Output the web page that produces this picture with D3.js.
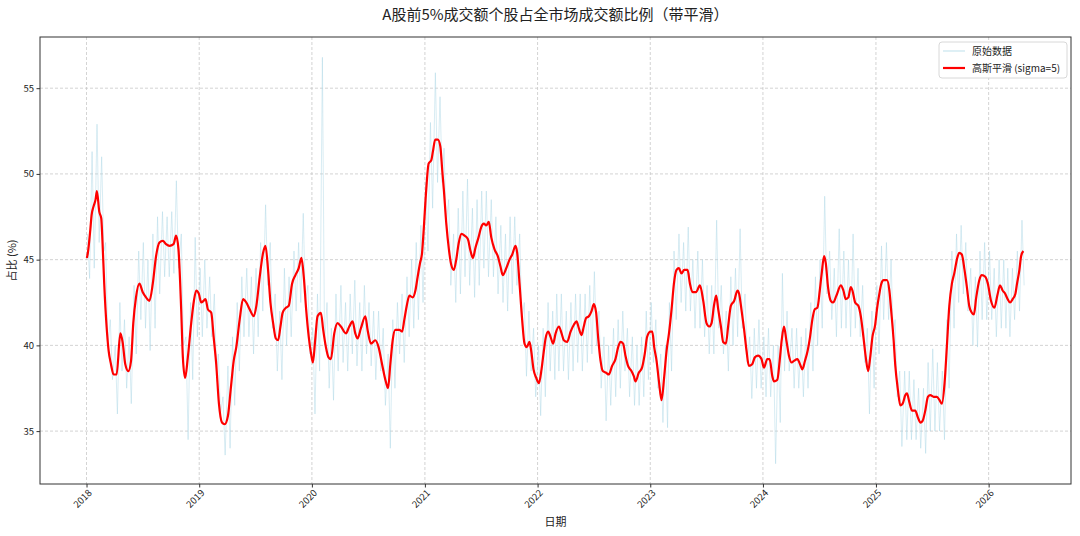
<!DOCTYPE html>

<head>
    <meta charset="utf-8">
    <style>
        html,
        body {
            margin: 0;
            padding: 0;
            background: #fff;
        }

        svg text {
            font-family: "Noto Sans CJK SC", "DejaVu Sans", sans-serif;
            fill: #222;
        }

        .grid line {
            stroke: #c8c8c8;
            stroke-width: 0.8px;
            stroke-dasharray: 3, 2;
        }

        .axis path,
        .axis line {
            stroke: #333;
        }
    </style>
    <script src="https://cdn.jsdelivr.net/npm/d3@7"></script>
</head>

<body>
    <svg id="chart" width="1080" height="536"></svg>

    <script>
        var smoothYears = [
            2018.003, 2018.012, 2018.033, 2018.045, 2018.062, 2018.080, 2018.092, 2018.113, 2018.131, 2018.142, 2018.157, 2018.178, 2018.196, 2018.217, 2018.240, 2018.267, 2018.300, 2018.320, 2018.344, 2018.371, 2018.395, 2018.415, 2018.439, 2018.469, 2018.499, 2018.528, 2018.558, 2018.588, 2018.617, 2018.647, 2018.677, 2018.706, 2018.736, 2018.772, 2018.795, 2018.816, 2018.840, 2018.855, 2018.875, 2018.899, 2018.929, 2018.953, 2018.974, 2018.997,
            2019.018, 2019.039, 2019.056, 2019.077, 2019.107, 2019.128, 2019.151, 2019.175, 2019.202, 2019.226, 2019.255, 2019.279, 2019.306, 2019.329, 2019.359, 2019.389, 2019.418, 2019.448, 2019.484, 2019.507, 2019.537, 2019.567, 2019.588, 2019.611, 2019.632, 2019.656, 2019.680, 2019.700, 2019.721, 2019.740, 2019.770, 2019.794, 2019.824, 2019.854, 2019.883, 2019.907, 2019.928, 2019.949, 2019.972, 2019.993,
            2020.009, 2020.029, 2020.050, 2020.080, 2020.100, 2020.124, 2020.147, 2020.168, 2020.198, 2020.227, 2020.257, 2020.301, 2020.331, 2020.360, 2020.384, 2020.404, 2020.434, 2020.473, 2020.493, 2020.523, 2020.561, 2020.590, 2020.621, 2020.650, 2020.674, 2020.694, 2020.715, 2020.738, 2020.774, 2020.798, 2020.818, 2020.839, 2020.863, 2020.892, 2020.916, 2020.936, 2020.957, 2020.975, 2020.989,
            2021.012, 2021.033, 2021.057, 2021.071, 2021.092, 2021.115, 2021.137, 2021.154, 2021.168, 2021.190, 2021.213, 2021.234, 2021.257, 2021.278, 2021.301, 2021.325, 2021.352, 2021.381, 2021.405, 2021.426, 2021.449, 2021.476, 2021.500, 2021.523, 2021.544, 2021.567, 2021.589, 2021.618, 2021.647, 2021.671, 2021.691, 2021.722, 2021.751, 2021.775, 2021.804, 2021.819, 2021.840, 2021.863, 2021.884, 2021.904, 2021.928, 2021.943, 2021.964, 2021.988,
            2022.012, 2022.035, 2022.056, 2022.071, 2022.094, 2022.115, 2022.138, 2022.160, 2022.189, 2022.213, 2022.233, 2022.262, 2022.293, 2022.322, 2022.346, 2022.366, 2022.390, 2022.410, 2022.431, 2022.455, 2022.479, 2022.499, 2022.520, 2022.537, 2022.559, 2022.579, 2022.608, 2022.632, 2022.661, 2022.691, 2022.715, 2022.736, 2022.759, 2022.780, 2022.803, 2022.833, 2022.854, 2022.869, 2022.898, 2022.927, 2022.951, 2022.972,
            2023.002, 2023.018, 2023.035, 2023.056, 2023.077, 2023.100, 2023.124, 2023.145, 2023.166, 2023.189, 2023.210, 2023.233, 2023.254, 2023.277, 2023.301, 2023.331, 2023.352, 2023.375, 2023.405, 2023.441, 2023.470, 2023.499, 2023.523, 2023.544, 2023.565, 2023.585, 2023.603, 2023.627, 2023.647, 2023.671, 2023.691, 2023.715, 2023.745, 2023.774, 2023.789, 2023.809, 2023.833, 2023.854, 2023.875, 2023.904, 2023.928, 2023.957, 2023.987,
            2024.009, 2024.038, 2024.059, 2024.083, 2024.098, 2024.127, 2024.148, 2024.166, 2024.186, 2024.207, 2024.230, 2024.254, 2024.275, 2024.305, 2024.328, 2024.349, 2024.372, 2024.396, 2024.417, 2024.437, 2024.458, 2024.482, 2024.503, 2024.520, 2024.541, 2024.556, 2024.576, 2024.600, 2024.621, 2024.650, 2024.689, 2024.712, 2024.733, 2024.756, 2024.777, 2024.792, 2024.816, 2024.845, 2024.866, 2024.889, 2024.910, 2024.931, 2024.949, 2024.969, 2024.993,
            2025.009, 2025.030, 2025.048, 2025.068, 2025.098, 2025.119, 2025.137, 2025.157, 2025.172, 2025.195, 2025.216, 2025.237, 2025.261, 2025.275, 2025.296, 2025.319, 2025.349, 2025.372, 2025.394, 2025.414, 2025.438, 2025.461, 2025.482, 2025.512, 2025.541, 2025.565, 2025.585, 2025.609, 2025.629, 2025.651, 2025.674, 2025.695, 2025.718, 2025.739, 2025.762, 2025.786, 2025.807, 2025.828, 2025.851, 2025.869, 2025.890, 2025.917, 2025.940, 2025.970, 2025.993,
            2026.021, 2026.051, 2026.080, 2026.101, 2026.124, 2026.148, 2026.168, 2026.190, 2026.213, 2026.237, 2026.252, 2026.273, 2026.288, 2026.308
        ];
        var smoothValues = [
            45.1, 45.4, 46.7, 47.6, 48.1, 48.5, 49.0, 47.8, 47.4, 46.0, 43.6, 41.1, 39.7, 38.9, 38.3, 38.3, 40.7, 40.2, 38.9, 38.5, 39.1, 41.3, 42.8, 43.6, 43.1, 42.8, 42.6, 43.6, 45.2, 46.0, 46.1, 45.9, 45.8, 45.9, 46.4, 45.6, 42.1, 39.3, 38.1, 39.3, 41.3, 42.6, 43.2, 43.0,
            42.5, 42.6, 42.7, 42.1, 41.9, 40.5, 38.9, 36.6, 35.5, 35.4, 35.9, 37.4, 39.1, 39.9, 41.5, 42.7, 42.5, 42.1, 41.7, 42.3, 44.0, 45.4, 45.8, 44.4, 42.5, 41.3, 40.4, 40.3, 41.1, 41.9, 42.2, 42.3, 43.6, 44.1, 44.5, 45.1, 44.0, 42.1, 40.5, 39.5,
            39.0, 40.3, 41.7, 41.9, 40.9, 39.9, 39.3, 39.2, 40.7, 41.3, 41.1, 40.7, 41.1, 41.4, 40.7, 40.4, 41.0, 41.7, 40.9, 40.1, 40.3, 39.9, 38.9, 38.0, 37.5, 38.9, 40.3, 40.9, 40.9, 40.8, 41.5, 42.3, 42.9, 42.8, 43.2, 44.0, 44.8, 45.4, 46.7,
            49.1, 50.6, 50.8, 51.3, 52.0, 52.0, 51.6, 50.2, 49.1, 47.1, 45.6, 44.7, 44.4, 45.0, 46.0, 46.5, 46.4, 46.2, 45.5, 45.1, 45.7, 46.3, 46.9, 47.1, 47.0, 47.2, 46.3, 45.6, 45.2, 44.6, 44.1, 44.5, 45.0, 45.3, 45.8, 45.4, 43.6, 41.5, 40.1, 39.9, 40.2, 39.7, 38.6, 38.1,
            37.8, 38.6, 39.7, 40.4, 40.8, 40.5, 40.1, 40.7, 41.1, 40.7, 40.3, 40.2, 40.8, 41.2, 41.4, 41.0, 40.6, 41.1, 41.6, 41.7, 42.0, 42.4, 41.9, 40.5, 39.1, 38.5, 38.4, 38.3, 38.8, 39.2, 39.9, 40.2, 40.1, 39.4, 38.8, 38.5, 38.2, 37.9, 38.4, 38.7, 39.5, 40.5,
            40.8, 40.8, 39.9, 39.1, 37.9, 36.8, 38.2, 39.7, 40.7, 42.1, 43.6, 44.4, 44.5, 44.2, 44.4, 44.4, 43.6, 43.1, 43.1, 43.5, 42.6, 41.3, 41.1, 41.3, 42.3, 42.9, 42.1, 41.1, 40.2, 40.1, 41.1, 42.3, 42.6, 43.2, 43.0, 42.1, 40.9, 39.7, 38.8, 38.9, 39.3, 39.4, 39.2,
            38.7, 39.2, 39.2, 38.2, 37.9, 38.0, 39.1, 40.3, 41.1, 40.3, 39.4, 39.0, 39.1, 39.2, 38.9, 38.6, 39.1, 39.7, 40.5, 41.5, 42.1, 42.2, 43.2, 44.2, 45.2, 44.8, 43.4, 42.6, 42.5, 42.9, 43.5, 43.2, 42.7, 42.8, 43.4, 43.2, 42.5, 42.3, 41.7, 40.5, 39.3, 38.5, 39.3, 40.5, 41.2,
            42.1, 43.0, 43.6, 43.8, 43.8, 43.2, 41.9, 40.3, 38.8, 37.4, 36.5, 36.6, 37.1, 37.2, 36.7, 36.2, 36.2, 35.8, 35.5, 35.6, 36.2, 37.0, 37.1, 37.0, 37.0, 36.8, 36.6, 37.8, 39.9, 42.3, 43.6, 44.2, 45.0, 45.4, 45.3, 44.4, 43.4, 42.3, 41.9, 41.8, 42.8, 43.8, 44.1, 44.0, 43.6,
            42.6, 42.2, 43.0, 43.5, 43.2, 43.0, 42.7, 42.5, 42.7, 43.0, 43.6, 44.4, 45.2, 45.5
        ];

        // Raw daily series, read as the high and low of each half month (1st / 16th), Jan 2018 .. Apr 2026
        var rawHigh = [
            46.5, 51.3, 52.9, 51.0, 46.0, 41.5, 40.0, 42.5, 41.5, 40.5, 43.5, 45.5, 46.0, 45.0, 46.5, 47.5, 47.8, 47.5, 47.8, 49.6, 46.5, 40.5, 42.5, 46.3,
            44.5, 45.0, 44.0, 43.0, 39.5, 37.0, 38.8, 40.5, 42.5, 44.0, 44.5, 44.0, 44.5, 46.0, 48.2, 46.0, 43.0, 42.0, 44.5, 44.0, 45.5, 46.0, 47.7, 43.5,
            41.0, 43.0, 56.8, 42.5, 41.0, 43.0, 43.5, 42.5, 43.0, 43.8, 42.5, 43.5, 42.5, 42.0, 42.0, 41.0, 39.5, 41.5, 42.5, 43.0, 44.0, 45.0, 46.0, 47.0,
            49.5, 53.0, 55.9, 54.5, 51.5, 48.5, 46.5, 48.0, 49.0, 49.7, 48.0, 48.5, 49.0, 49.0, 48.5, 47.5, 47.0, 46.5, 47.5, 47.5, 46.5, 42.5, 42.0, 41.0,
            40.0, 41.0, 42.5, 42.0, 43.0, 43.0, 42.0, 42.5, 43.0, 43.0, 43.0, 43.5, 44.3, 42.0, 40.5, 40.0, 41.0, 41.5, 42.0, 41.0, 40.5, 40.0, 40.5, 42.0,
            42.5, 41.5, 39.5, 40.0, 42.5, 45.5, 46.5, 46.0, 46.9, 45.0, 45.5, 45.0, 43.5, 43.5, 47.3, 43.5, 42.0, 44.0, 44.5, 46.8, 43.0, 40.5, 41.0, 41.5,
            40.5, 41.0, 40.0, 40.0, 44.2, 42.0, 41.0, 41.0, 40.5, 41.0, 42.5, 44.0, 45.0, 48.7, 45.5, 44.5, 46.8, 45.5, 45.0, 46.5, 44.5, 43.5, 41.0, 42.0,
            43.5, 45.8, 46.0, 45.0, 41.5, 38.5, 38.5, 38.5, 38.0, 37.5, 37.5, 39.0, 39.8, 39.0, 38.5, 41.5, 45.5, 46.5, 47.0, 46.0, 44.5, 44.0, 45.5, 46.0,
            45.5, 44.5, 45.0, 45.0, 44.5, 44.5, 45.5, 47.3
        ];
        var rawLow = [
            43.9, 44.5, 46.0, 45.5, 40.0, 38.0, 36.0, 38.5, 37.5, 36.6, 39.5, 41.5, 41.0, 39.7, 41.0, 43.0, 44.0, 44.0, 44.2, 44.5, 40.0, 34.5, 38.0, 40.5,
            40.5, 41.0, 40.5, 38.5, 36.0, 33.6, 34.0, 36.5, 38.5, 40.5, 40.5, 39.5, 40.5, 42.0, 43.5, 41.0, 38.5, 38.0, 40.0, 40.5, 42.0, 42.5, 42.5, 39.5,
            36.0, 38.5, 40.0, 37.5, 36.8, 38.5, 39.0, 38.5, 39.5, 38.8, 38.5, 39.5, 38.8, 38.0, 38.5, 36.5, 34.0, 37.5, 39.5, 39.0, 40.5, 41.0, 41.5, 42.5,
            45.5, 48.0, 49.5, 49.5, 47.0, 43.5, 42.5, 43.0, 44.0, 43.5, 42.8, 43.5, 44.5, 44.0, 44.0, 43.0, 42.5, 42.0, 43.0, 43.5, 41.5, 38.2, 38.5, 37.0,
            35.9, 37.0, 38.5, 38.0, 38.5, 38.5, 38.0, 38.5, 39.0, 38.5, 39.0, 39.5, 40.0, 37.5, 35.6, 36.5, 37.0, 37.5, 38.5, 37.0, 36.5, 36.5, 37.0, 38.0,
            39.0, 37.5, 35.5, 35.2, 38.5, 41.5, 42.5, 42.0, 42.0, 41.0, 41.0, 40.5, 39.5, 39.5, 41.0, 39.5, 38.5, 40.0, 40.5, 41.0, 39.0, 36.9, 37.5, 37.5,
            37.0, 37.0, 33.1, 35.5, 38.5, 38.5, 37.5, 37.5, 37.0, 37.5, 38.5, 40.0, 41.0, 43.0, 41.5, 40.5, 41.0, 41.0, 40.5, 41.0, 40.5, 39.0, 36.0, 37.5,
            39.5, 41.5, 41.5, 40.5, 37.0, 34.1, 34.5, 34.5, 34.5, 34.0, 33.7, 35.0, 35.0, 35.0, 34.5, 37.5, 41.0, 42.5, 43.0, 42.0, 40.0, 39.9, 41.5, 41.5,
            41.5, 40.5, 41.0, 41.0, 40.5, 41.5, 42.0, 43.5
        ];

        var yTicks = [35, 40, 45, 50, 55];
        var titleText = "A股前5%成交额个股占全市场成交额比例（带平滑）";
        var legendLabels = ["原始数据", "高斯平滑 (sigma=5)"];

        var width = 1080,
            height = 536,
            margin = { top: 37, right: 9, bottom: 52, left: 40 };

        function decToDate(t) {
            var y = Math.floor(t);
            var start = new Date(y, 0, 1),
                end = new Date(y + 1, 0, 1);
            return new Date(+start + (t - y) * (end - start));
        }

        var smooth = smoothYears.map(function (t, i) {
            return { date: decToDate(t), value: smoothValues[i] };
        });

        // raw line zigzags through the high and low of each half month
        var raw = [];
        rawHigh.forEach(function (hi, i) {
            var m = Math.floor(i / 2),
                d0 = i % 2 ? 16 : 1;
            raw.push({ date: new Date(2018, m, d0 + 3), value: hi });
            raw.push({ date: new Date(2018, m, d0 + 10), value: rawLow[i] });
        });

        // matplotlib style 5% margins around the data
        var allDates = raw.map(function (d) { return d.date; }).concat(smooth.map(function (d) { return d.date; }));
        var tExt = d3.extent(allDates),
            tPad = (tExt[1] - tExt[0]) * 0.05;
        var vExt = d3.extent(raw, function (d) { return d.value; }),
            vPad = (vExt[1] - vExt[0]) * 0.05;

        var x = d3.scaleTime()
            .domain([new Date(+tExt[0] - tPad), new Date(+tExt[1] + tPad)])
            .range([margin.left, width - margin.right]);

        var y = d3.scaleLinear()
            .domain([vExt[0] - vPad, vExt[1] + vPad])
            .range([height - margin.bottom, margin.top]);

        var svg = d3.select("#chart");

        svg.append("rect")
            .attr("width", width)
            .attr("height", height)
            .attr("fill", "#fff");

        var xTickVals = x.ticks(d3.timeYear.every(1));

        // grid
        svg.append("g")
            .attr("class", "grid")
            .selectAll("line.v")
            .data(xTickVals)
            .enter().append("line")
            .attr("x1", function (d) { return x(d); })
            .attr("x2", function (d) { return x(d); })
            .attr("y1", margin.top)
            .attr("y2", height - margin.bottom);

        svg.append("g")
            .attr("class", "grid")
            .selectAll("line.h")
            .data(yTicks)
            .enter().append("line")
            .attr("x1", margin.left)
            .attr("x2", width - margin.right)
            .attr("y1", function (d) { return y(d); })
            .attr("y2", function (d) { return y(d); });

        var line = d3.line()
            .x(function (d) { return x(d.date); })
            .y(function (d) { return y(d.value); });

        svg.append("path")
            .datum(raw)
            .attr("fill", "none")
            .attr("stroke", "#add8e6")
            .attr("stroke-opacity", 0.6)
            .attr("stroke-width", 0.8)
            .attr("d", line);

        svg.append("path")
            .datum(smooth)
            .attr("fill", "none")
            .attr("stroke", "#ff0000")
            .attr("stroke-width", 2.2)
            .attr("stroke-linejoin", "round")
            .attr("d", line.curve(d3.curveMonotoneX));

        // axes
        var xAxis = svg.append("g")
            .attr("class", "axis")
            .attr("transform", "translate(0," + (height - margin.bottom) + ")")
            .call(d3.axisBottom(x).tickValues(xTickVals).tickFormat(d3.timeFormat("%Y")).tickSize(3.5).tickSizeOuter(0));
        xAxis.select(".domain").remove();
        xAxis.selectAll("text")
            .attr("font-size", 9.5)
            .attr("text-anchor", "middle")
            .attr("dy", 0)
            .attr("y", 0)
            .attr("transform", "translate(-2,17) rotate(-45)");

        var yAxis = svg.append("g")
            .attr("class", "axis")
            .attr("transform", "translate(" + margin.left + ",0)")
            .call(d3.axisLeft(y).tickValues(yTicks).tickSize(3.5).tickSizeOuter(0));
        yAxis.select(".domain").remove();
        yAxis.selectAll("text")
            .attr("font-size", 9.5)
            .attr("x", -6);

        // frame
        svg.append("rect")
            .attr("x", margin.left)
            .attr("y", margin.top)
            .attr("width", width - margin.left - margin.right)
            .attr("height", height - margin.top - margin.bottom)
            .attr("fill", "none")
            .attr("stroke", "#333")
            .attr("stroke-width", 1);

        // labels
        svg.append("text")
            .attr("x", (margin.left + width - margin.right) / 2)
            .attr("y", 20)
            .attr("text-anchor", "middle")
            .attr("font-size", 15)
            .text(titleText);

        svg.append("text")
            .attr("x", (margin.left + width - margin.right) / 2)
            .attr("y", 526)
            .attr("text-anchor", "middle")
            .attr("font-size", 11)
            .text("日期");

        svg.append("text")
            .attr("transform", "translate(16," + ((margin.top + height - margin.bottom) / 2) + ") rotate(-90)")
            .attr("text-anchor", "middle")
            .attr("font-size", 11)
            .text("占比 (%)");

        // legend
        var legend = svg.append("g")
            .attr("transform", "translate(939,42)");

        legend.append("rect")
            .attr("width", 128)
            .attr("height", 36)
            .attr("rx", 3)
            .attr("fill", "#fff")
            .attr("fill-opacity", 0.8)
            .attr("stroke", "#d8d8d8");

        var legendStyles = [
            { color: "#add8e6", width: 1, opacity: 0.8 },
            { color: "#ff0000", width: 2.2, opacity: 1 }
        ];

        legendLabels.forEach(function (label, i) {
            var ly = 9 + i * 17;
            legend.append("line")
                .attr("x1", 4)
                .attr("x2", 26)
                .attr("y1", ly)
                .attr("y2", ly)
                .attr("stroke", legendStyles[i].color)
                .attr("stroke-opacity", legendStyles[i].opacity)
                .attr("stroke-width", legendStyles[i].width);
            legend.append("text")
                .attr("x", 33)
                .attr("y", ly)
                .attr("dy", "0.35em")
                .attr("font-size", 10)
                .text(label);
        });
    </script>
</body>
